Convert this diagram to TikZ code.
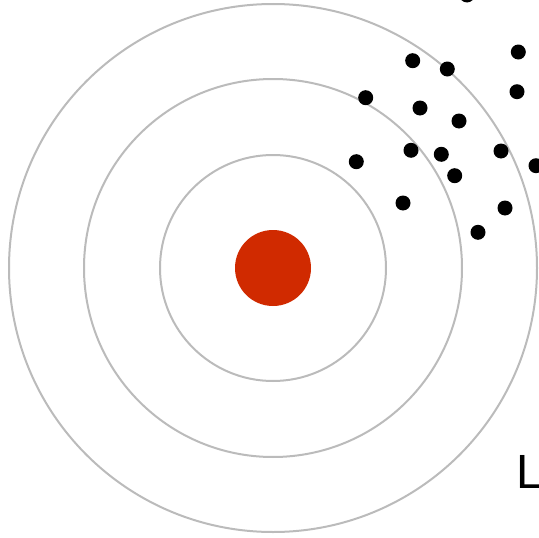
\documentclass[tikz,border=0pt]{standalone}
\usepackage{fontspec}
\setmainfont{Liberation Sans}
\definecolor{ringgray}{HTML}{BBBBBB}
\definecolor{bullred}{HTML}{D02A00}
\begin{document}
\begin{tikzpicture}[x=1pt,y=-1pt,
  ring/.style={draw=ringgray,line width=2pt},
  shot/.style={circle,fill=black,inner sep=0pt,minimum size=15pt},
  bull/.style={circle,fill=bullred,inner sep=0pt,minimum size=76pt}]
\useasboundingbox (0,0) rectangle (539,538);
\coordinate (c) at (273,268);
\draw[ring] (c) circle (264);
\draw[ring] (c) circle (189);
\draw[ring] (c) circle (113);
\node[bull] (bullseye) at (c) {};
\foreach \x/\y [count=\i] in {467/-5, 412.7/60.7, 447.3/69, 518.3/52, 517/91.7, 365.7/97.7,
  420/108, 459/121, 411/150.3, 441.3/154.3, 501/151, 536/165.7, 356.3/161.7,
  454.7/175.7, 403/203, 505/208, 478/232.3}
  \node[shot] (s\i) at (\x,\y) {};
\node[anchor=base west,inner sep=0pt,font=\fontsize{48}{48}\selectfont] (lbl) at (516.5,488) {L};
\end{tikzpicture}
\end{document}
